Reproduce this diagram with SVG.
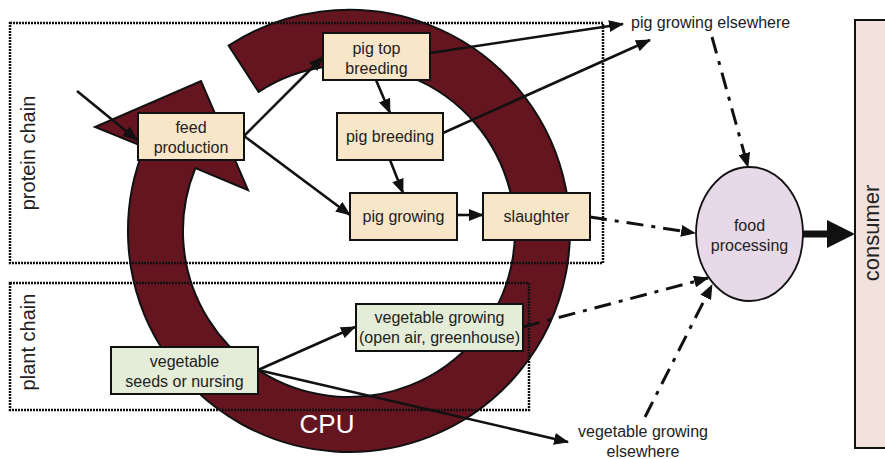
<svg xmlns="http://www.w3.org/2000/svg" width="885" height="459" viewBox="0 0 885 459">
<style>
text{font-family:"Liberation Sans",Arial,sans-serif;fill:#222}
.box{stroke:#111;stroke-width:2}
.tan{fill:#F8E6C9}
.grn{fill:#E3EDD8}
.t{font-size:16px;text-anchor:middle}
.dot{fill:none;stroke:#111;stroke-width:2.5;stroke-dasharray:2 1}
.c{fill:none;stroke:#111;stroke-width:2.6;marker-end:url(#ah)}
.dd{fill:none;stroke:#111;stroke-width:3;stroke-dasharray:17 8 4 8;marker-end:url(#ah)}
</style>
<defs>
<marker id="ah" viewBox="0 0 15 12" refX="14" refY="6" markerWidth="15" markerHeight="12" markerUnits="userSpaceOnUse" orient="auto">
<path d="M0,0 L15,6 L0,12 Z" fill="#111"/>
</marker>
</defs>
<rect width="885" height="459" fill="#fff"/>
<g id="cpu">
<path d="M228.6,45.6 A221,221 0 1 1 144.5,147.1 L95,127 L201,81 L248,190 L195.4,168 A166,166 0 1 0 258.6,91.8 Z" fill="#65151F" stroke="#111" stroke-width="2"/>
<text x="327" y="433" style="font-size:26px;fill:#fff;text-anchor:middle">CPU</text>
</g>
<g id="protein-chain">
<rect class="dot" x="10" y="23" width="593" height="240"/>
<text transform="translate(35,153) rotate(-90)" style="font-size:20px;text-anchor:middle">protein chain</text>
</g>
<g id="plant-chain">
<rect class="dot" x="10" y="283" width="519" height="127"/>
<text transform="translate(35,342) rotate(-90)" style="font-size:20px;text-anchor:middle">plant chain</text>
</g>
<g id="connectors">
<line class="c" x1="77" y1="91" x2="137" y2="140"/>
<line class="c" x1="244" y1="136" x2="323" y2="57"/>
<line class="c" x1="244" y1="136" x2="350" y2="215"/>
<line class="c" x1="376" y1="80" x2="390" y2="113"/>
<line class="c" x1="390" y1="160" x2="403" y2="193"/>
<line class="c" x1="457" y1="215" x2="483" y2="215"/>
<line class="c" x1="430" y1="53" x2="623" y2="24"/>
<line class="c" x1="443" y1="133" x2="650" y2="40"/>
<line class="c" x1="258" y1="370" x2="355" y2="327"/>
<line class="c" x1="258" y1="370" x2="568" y2="442"/>
<line class="dd" x1="590" y1="217" x2="695" y2="233"/>
<line class="dd" x1="712" y1="37" x2="748" y2="167"/>
<line class="dd" x1="523" y1="327" x2="708" y2="278"/>
<line class="dd" x1="645" y1="417" x2="712" y2="285"/>
<line x1="803" y1="234" x2="830" y2="234" stroke="#111" stroke-width="7"/>
<path d="M827,220 L855,234 L827,248 Z" fill="#111"/>
</g>
<g id="feed-production">
<rect class="box tan" x="138" y="113" width="106" height="47"/>
<text class="t" x="191" y="133">feed</text>
<text class="t" x="191" y="153">production</text>
</g>
<g id="pig-top-breeding">
<rect class="box tan" x="323" y="33" width="107" height="47"/>
<text class="t" x="376.5" y="54">pig top</text>
<text class="t" x="376.5" y="74">breeding</text>
</g>
<g id="pig-breeding">
<rect class="box tan" x="337" y="113" width="106" height="47"/>
<text class="t" x="390" y="142">pig breeding</text>
</g>
<g id="pig-growing">
<rect class="box tan" x="350" y="193" width="107" height="47"/>
<text class="t" x="403.5" y="222">pig growing</text>
</g>
<g id="slaughter">
<rect class="box tan" x="483" y="193" width="107" height="47"/>
<text class="t" x="536.5" y="222">slaughter</text>
</g>
<g id="vegetable-growing">
<rect class="box grn" x="356" y="304" width="167" height="47"/>
<text class="t" x="439.5" y="323">vegetable growing</text>
<text class="t" x="439.5" y="343">(open air, greenhouse)</text>
</g>
<g id="vegetable-seeds">
<rect class="box grn" x="111" y="347" width="147" height="47"/>
<text class="t" x="184.5" y="367">vegetable</text>
<text class="t" x="184.5" y="387">seeds or nursing</text>
</g>
<g id="food-processing">
<ellipse cx="749.5" cy="234" rx="53.5" ry="67" fill="#E8D9E8" stroke="#111" stroke-width="1.8"/>
<text class="t" x="749.5" y="230.5">food</text>
<text class="t" x="749.5" y="250.5">processing</text>
</g>
<g id="consumer">
<rect x="855" y="20" width="40" height="428" fill="#F2E2DE" stroke="#111" stroke-width="2"/>
<text transform="translate(879,233) rotate(-90)" style="font-size:22px;text-anchor:middle">consumer</text>
</g>
<g id="pig-elsewhere">
<text x="631" y="27.5" style="font-size:16px">pig growing elsewhere</text>
</g>
<g id="veg-elsewhere">
<text class="t" x="643" y="437">vegetable growing</text>
<text class="t" x="643" y="457">elsewhere</text>
</g>
</svg>
